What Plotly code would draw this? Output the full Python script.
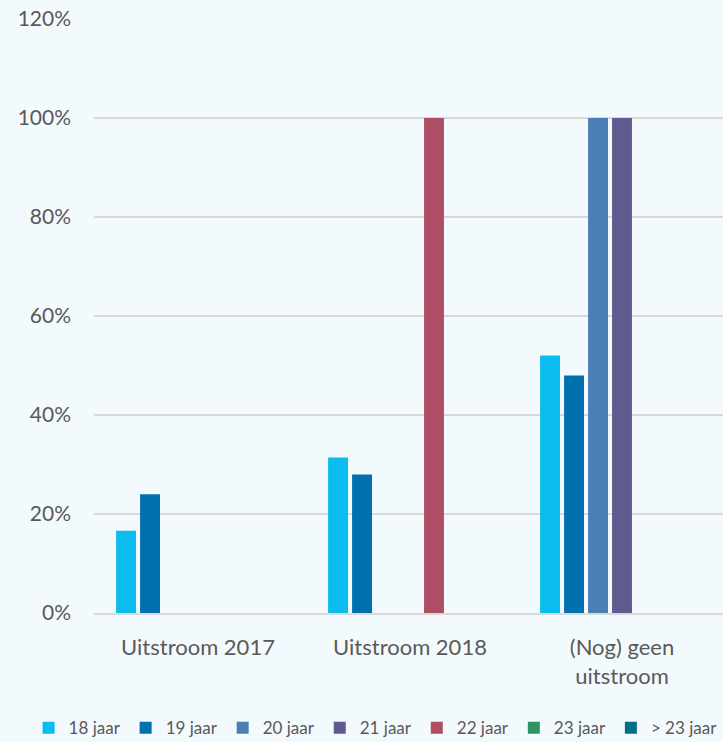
import plotly.graph_objects as go

categories = ["Uitstroom 2017", "Uitstroom 2018", "(Nog) geen<br>uitstroom"]
series_names = ["18 jaar", "19 jaar", "20 jaar", "21 jaar", "22 jaar", "23 jaar", "> 23 jaar"]
v18 = [0.166, 0.314, 0.52]
v19 = [0.24, 0.28, 0.48]
v20 = [0, 0, 1.0]
v21 = [0, 0, 1.0]
v22 = [0, 1.0, 0]
v23 = [0, 0, 0]
v23plus = [0, 0, 0]
series_values = [v18, v19, v20, v21, v22, v23, v23plus]
colors = ["#0BBDEF", "#0070AF", "#4A7EB5", "#5E5B8E", "#AE4D63", "#2E9462", "#006F8A"]
y_ticks = [0, 0.2, 0.4, 0.6, 0.8, 1.0, 1.2]
y_tick_labels = ["0%", "20%", "40%", "60%", "80%", "100%", "120%"]

fig = go.Figure()
for name, vals, col in zip(series_names, series_values, colors):
    fig.add_trace(go.Bar(x=categories, y=vals, name=name, marker_color=col,
                         marker_line_width=0))

bg = "#F3FAFD"
fig.update_layout(
    width=723, height=742,
    paper_bgcolor=bg, plot_bgcolor=bg,
    margin=dict(l=94, r=0, t=19, b=129, autoexpand=False),
    barmode="group", bargap=0.208, bargroupgap=0.17,
    font=dict(family="Lato", size=20, color="#595959"),
    showlegend=True,
    legend=dict(orientation="h", x=-0.104, xanchor="left", y=-0.194, yanchor="middle",
                font=dict(size=17), itemwidth=30,
                tracegroupgap=0, bgcolor="rgba(0,0,0,0)"),
    xaxis=dict(range=[-0.4906, 2.4764], showgrid=False, showline=True,
               linecolor="#D9D9D9", linewidth=1.5, ticks="", ticklabelstandoff=14,
               tickfont=dict(size=22, color="#595959")),
    yaxis=dict(range=[0, 1.2], tickvals=y_ticks, ticktext=y_tick_labels,
               showgrid=True, gridcolor="#D9D9D9", gridwidth=1.5, zeroline=False,
               showline=False, ticks="", ticklabelstandoff=22,
               tickfont=dict(size=21, color="#595959")),
)

fig.write_html("out.html", post_script="document.body.style.margin='0';",
               config={"displayModeBar": False})
